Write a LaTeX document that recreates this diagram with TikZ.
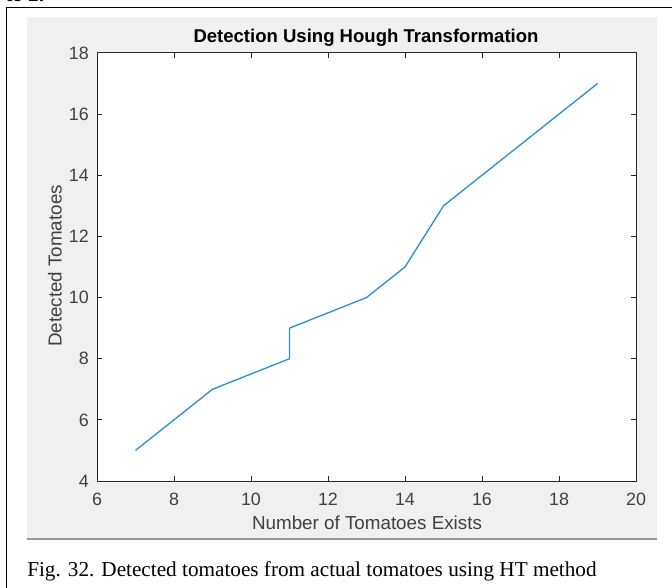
\documentclass[tikz,border=0pt]{standalone}
\usepackage{fontspec}
\setmainfont{Liberation Serif}
\newfontfamily\axfont{Liberation Sans}
\definecolor{figbg}{HTML}{F0F0F0}
\definecolor{axgray}{HTML}{262626}
\definecolor{ticktext}{HTML}{404040}
\definecolor{lineblue}{HTML}{2E8FD6}
\begin{document}
\begin{tikzpicture}[x=0.75pt,y=-0.75pt,
  ticklab/.style={font=\axfont\fontsize{13.4pt}{15pt}\selectfont, text=ticktext, inner sep=0pt},
  axlab/.style={font=\axfont\fontsize{14.1pt}{16pt}\selectfont, text=ticktext, inner sep=0pt},
  titlelab/.style={font=\axfont\bfseries\fontsize{13.9pt}{16pt}\selectfont, text=black, inner sep=0pt},
  caplab/.style={font=\fontsize{15.9pt}{18pt}\selectfont, inner sep=0pt},
  axbox/.style={draw=axgray, line width=0.75pt},
  datacurve/.style={draw=lineblue, line width=1pt, line join=round}]
\useasboundingbox (0,0) rectangle (672,588);
\fill[white] (0,0) rectangle (672,588);

% text of the previous paragraph, mostly above the page edge
\node[caplab, anchor=base west] (prevline) at (5,1.5) {\textbf{to 2.}};

% outer frame of the figure
\draw[black, line width=1.2pt] (6.5,600) -- (6.5,7.5) -- (680,7.5);

% figure window background
\fill[figbg] (27,17) rectangle (657,539);
\draw[gray!80, line width=1.4pt] (27,539) -- (657,539);

% axes area
\fill[white] (97,53) rectangle (636,481);

% data in axis units: x 6..20, y 4..18
\begin{scope}[shift={(97,481)}, x=28.875pt, y=22.93pt]
  \coordinate (origin) at (0,0);
  \coordinate (corner) at (14,14);
  % ticks on all four sides, pointing inward
  \foreach \t in {8,10,...,18} {
    \draw[axgray, line width=0.6pt] (\t-6,0) -- ++(0,5pt*0.75);
    \draw[axgray, line width=0.6pt] (\t-6,14) -- ++(0,-5pt*0.75);
  }
  \foreach \t in {6,8,...,16} {
    \draw[axgray, line width=0.6pt] (0,\t-4) -- ++(5pt*0.75,0);
    \draw[axgray, line width=0.6pt] (14,\t-4) -- ++(-5pt*0.75,0);
  }
  \foreach \t in {6,8,...,20}
    \node[ticklab, anchor=north] (xt\t) at ([yshift=-12pt*0.75]\t-6,0) {\t};
  \foreach \t in {4,6,...,18}
    \node[ticklab, anchor=east] (yt\t) at ([xshift=-8pt*0.75]0,\t-4) {\t};
  % detected vs. existing tomatoes
  \draw[datacurve] (1,1) -- (3,3) -- (5,4) -- (5,5) -- (7,6) -- (8,7) -- (9,9) -- (13,13);
  \draw[axbox] (origin) rectangle (corner);
\end{scope}

\node[titlelab] (title) at (366,38) {Detection Using Hough Transformation};
\node[axlab] (xlabel) at (367,523) {Number of Tomatoes Exists};
\node[axlab, rotate=90] (ylabel) at (55,266) {Detected Tomatoes};

\node[caplab, anchor=base west] (caption) at (27,576.5) {Fig. 32. Detected tomatoes from actual tomatoes using HT method};
\end{tikzpicture}
\end{document}
